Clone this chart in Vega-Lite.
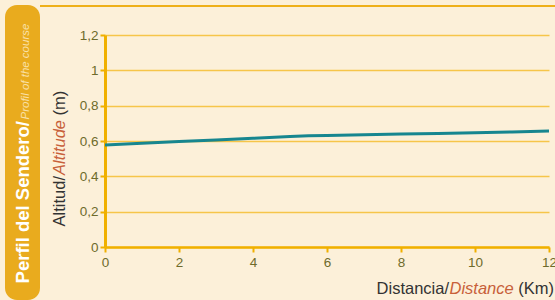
{
  "$schema": "https://vega.github.io/schema/vega-lite/v6.json",
  "background": "#fcf0d9",
  "padding": {"left": 5, "top": 5, "right": 0, "bottom": 0},
  "config": {"view": {"stroke": null}, "concat": {"spacing": 0}},
  "datasets": {
    "profile": [
      {"km": 0, "alt": 0.578}, {"km": 1, "alt": 0.587}, {"km": 2, "alt": 0.597},
      {"km": 3, "alt": 0.606}, {"km": 4, "alt": 0.615}, {"km": 5, "alt": 0.625},
      {"km": 5.5, "alt": 0.630}, {"km": 6, "alt": 0.631}, {"km": 7, "alt": 0.635},
      {"km": 8, "alt": 0.639}, {"km": 9, "alt": 0.643}, {"km": 10, "alt": 0.647},
      {"km": 11, "alt": 0.651}, {"km": 12, "alt": 0.657}
    ],
    "band": [{"es": "Perfil del Sendero/", "en": "Profil of the course"}],
    "ytitle": [{"es": "Altitud/", "en": "Altitude", "unit": "(m)"}],
    "xtitle": [{"es": "Distancia/", "en": "Distance", "unit": "(Km)"}],
    "none": []
  },
  "hconcat": [
    {
      "width": 35,
      "height": 295,
      "view": {"fill": "#e9ab1e", "cornerRadius": 12},
      "data": {"name": "band"},
      "layer": [
        {
          "mark": {"type": "text", "angle": 270, "align": "right", "baseline": "alphabetic",
                   "font": "Liberation Sans", "fontWeight": "bold",
                   "fontSize": 18.5, "color": "#ffffff", "dx": 31.5, "dy": 6.5},
          "encoding": {"text": {"field": "es"}}
        },
        {
          "mark": {"type": "text", "angle": 270, "align": "left", "baseline": "alphabetic",
                   "font": "Liberation Sans", "fontStyle": "italic",
                   "fontSize": 11.5, "color": "#f9e0a8", "dx": 33, "dy": 6.5},
          "encoding": {"text": {"field": "en"}}
        }
      ]
    },
    {
      "spacing": 21,
      "vconcat": [
        {
          "width": 515,
          "height": 2,
          "view": {"fill": "#eeb01a"},
          "data": {"name": "none"},
          "mark": "text",
          "encoding": {}
        },
        {
          "spacing": 10,
          "hconcat": [
            {
              "width": 25,
              "height": 212,
              "data": {"name": "ytitle"},
              "layer": [
                {
                  "mark": {"type": "text", "angle": 270, "align": "right", "baseline": "alphabetic",
                           "font": "Liberation Sans",
                           "fontSize": 16.5, "color": "#333333", "dx": -35, "dy": 12.5},
                  "encoding": {"text": {"field": "es"}}
                },
                {
                  "mark": {"type": "text", "angle": 270, "align": "left", "baseline": "alphabetic",
                           "font": "Liberation Sans", "fontStyle": "italic",
                           "fontSize": 16.5, "color": "#c8603a", "dx": -34, "dy": 12.5},
                  "encoding": {"text": {"field": "en"}}
                },
                {
                  "mark": {"type": "text", "angle": 270, "align": "left", "baseline": "alphabetic",
                           "font": "Liberation Sans",
                           "fontSize": 16.5, "color": "#333333", "dx": 25.5, "dy": 12.5},
                  "encoding": {"text": {"field": "unit"}}
                }
              ]
            },
            {
              "width": 444,
              "height": 212,
              "view": {"fill": "#fcf0d9"},
              "layer": [
                {
                  "data": {"name": "profile"},
                  "mark": {"type": "line", "color": "#17868f", "strokeWidth": 3},
                  "encoding": {
                    "x": {"field": "km", "type": "quantitative",
                          "scale": {"domain": [0, 12], "nice": false},
                          "axis": {"title": null, "values": [0, 2, 4, 6, 8, 10, 12], "tickCount": 12, "grid": false,
                                   "labelFlush": false, "labelOverlap": false,
                                   "domainColor": "#f0b000", "domainWidth": 2.5,
                                   "tickColor": "#f0b000", "tickSize": 5, "tickWidth": 2,
                                   "labelFont": "Liberation Sans",
                                   "labelFontSize": 13.5, "labelColor": "#6e6b2b", "labelPadding": 3}},
                    "y": {"field": "alt", "type": "quantitative",
                          "scale": {"domain": [0, 1.2], "nice": false},
                          "axis": {"title": null, "values": [0, 0.2, 0.4, 0.6, 0.8, 1, 1.2], "tickCount": 10, "grid": true,
                                   "labelFlush": false, "labelOverlap": false,
                                   "gridColor": "#f6c54a", "gridWidth": 1.5,
                                   "domainColor": "#f0b000", "domainWidth": 3,
                                   "tickColor": "#f0b000", "tickSize": 5, "tickWidth": 2,
                                   "labelExpr": "replace(format(datum.value, '~g'), '.', ',')",
                                   "labelFont": "Liberation Sans",
                                   "labelFontSize": 13.5, "labelColor": "#6e6b2b", "labelPadding": 2}}
                  }
                },
                {
                  "data": {"name": "xtitle"},
                  "mark": {"type": "text", "align": "right", "baseline": "alphabetic",
                           "font": "Liberation Sans",
                           "fontSize": 16.5, "color": "#333333", "dx": 5, "dy": 47},
                  "encoding": {"x": {"datum": 12, "type": "quantitative"}, "y": {"datum": 0, "type": "quantitative"},
                               "text": {"field": "unit"}}
                },
                {
                  "data": {"name": "xtitle"},
                  "mark": {"type": "text", "align": "right", "baseline": "alphabetic",
                           "font": "Liberation Sans", "fontStyle": "italic",
                           "fontSize": 16.5, "color": "#c8603a", "dx": -35.3, "dy": 47},
                  "encoding": {"x": {"datum": 12, "type": "quantitative"}, "y": {"datum": 0, "type": "quantitative"},
                               "text": {"field": "en"}}
                },
                {
                  "data": {"name": "xtitle"},
                  "mark": {"type": "text", "align": "right", "baseline": "alphabetic",
                           "font": "Liberation Sans",
                           "fontSize": 16.5, "color": "#333333", "dx": -100, "dy": 47},
                  "encoding": {"x": {"datum": 12, "type": "quantitative"}, "y": {"datum": 0, "type": "quantitative"},
                               "text": {"field": "es"}}
                }
              ]
            }
          ]
        }
      ]
    }
  ]
}
